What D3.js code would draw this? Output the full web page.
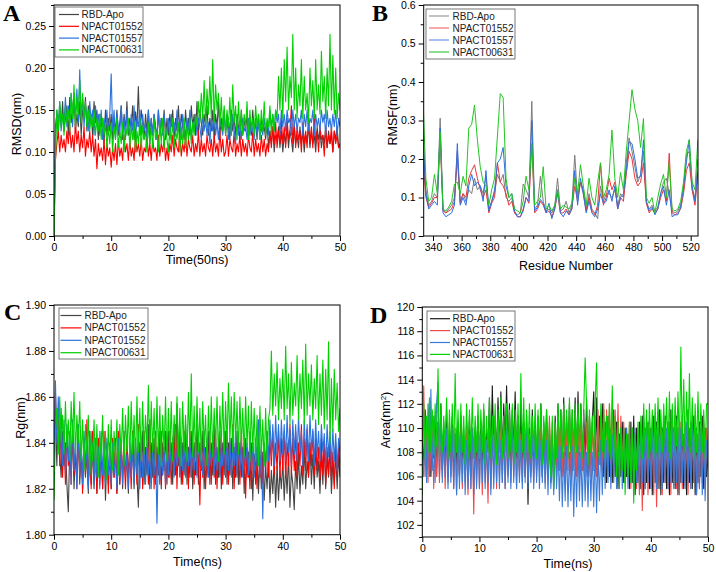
<!DOCTYPE html>
<html><head><meta charset="utf-8">
<script src="https://cdn.jsdelivr.net/npm/d3@7"></script>
<style>
body{margin:0;background:#fff}
svg{display:block}
</style>
</head><body>
<svg id="c" width="716" height="572" font-family="'Liberation Sans',Arial,sans-serif"></svg>
<script>
// ---------- data ----------
const seriesNames = ["RBD-Apo","NPACT01552","NPACT01557","NPACT00631"];
const seriesNamesC = ["RBD-Apo","NPACT01552","NPACT01552","NPACT00631"];
const timeRange = [0, 50];                   // ns, samples evenly spaced over this range
const residues = d3.range(333, 526, 2);      // 97 residues

// Panel A: RMSD (nm), 0.25 ns sampling
const rmsdApo = [
0,0.13,0.145,0.12,0.155,0.13,0.16,0.125,0.14,0.155,0.12,0.165,0.135,0.15,0.17,0.125,0.145,0.13,0.16,0.12,0.15,0.14,0.165,0.125,0.155,0.13,0.145,0.12,0.16,0.135,0.15,0.115,0.145,0.13,0.14,0.11,0.15,0.12,0.14,0.125,
0.145,0.115,0.14,0.125,0.15,0.12,0.135,0.155,0.115,0.145,0.125,0.16,0.12,0.14,0.13,0.155,0.115,0.148,0.13,0.178,0.12,0.15,0.135,0.115,0.145,0.125,0.15,0.11,0.14,0.12,0.145,0.13,0.115,0.15,0.12,0.14,0.125,0.15,0.115,0.14,
0.12,0.145,0.13,0.15,0.115,0.14,0.125,0.155,0.12,0.145,0.13,0.115,0.15,0.125,0.14,0.12,0.155,0.13,0.145,0.12,0.16,0.125,0.15,0.135,0.12,0.145,0.13,0.155,0.12,0.14,0.125,0.15,0.115,0.145,0.13,0.16,0.12,0.14,0.125,0.15,
0.12,0.145,0.13,0.115,0.15,0.125,0.14,0.12,0.145,0.13,0.115,0.15,0.12,0.14,0.125,0.145,0.115,0.14,0.12,0.15,0.125,0.135,0.115,0.145,0.12,0.14,0.125,0.13,0.115,0.135,0.105,0.125,0.11,0.13,0.10,0.12,0.115,0.13,0.105,0.125,
0.10,0.12,0.11,0.13,0.105,0.125,0.115,0.10,0.13,0.11,0.12,0.105,0.13,0.11,0.125,0.10,0.12,0.115,0.13,0.105,0.125,0.11,0.12,0.10,0.13,0.115,0.125,0.105,0.12,0.11,0.13,0.105,0.125,0.11,0.12,0.10,0.125,0.115,0.13,0.105,
0.11];
const rmsd01552 = [
0,0.09,0.11,0.125,0.10,0.12,0.105,0.115,0.10,0.125,0.11,0.13,0.105,0.12,0.10,0.135,0.11,0.125,0.10,0.12,0.105,0.13,0.095,0.115,0.105,0.125,0.10,0.12,0.095,0.115,0.08,0.11,0.095,0.105,0.09,0.115,0.085,0.11,0.095,0.105,
0.082,0.105,0.09,0.11,0.085,0.115,0.095,0.105,0.09,0.12,0.10,0.11,0.09,0.115,0.095,0.105,0.09,0.12,0.10,0.11,0.095,0.115,0.09,0.105,0.10,0.12,0.095,0.11,0.09,0.115,0.10,0.105,0.09,0.12,0.095,0.11,0.10,0.115,0.09,0.105,
0.09,0.11,0.10,0.12,0.095,0.115,0.105,0.10,0.125,0.095,0.11,0.10,0.12,0.095,0.115,0.105,0.10,0.12,0.095,0.11,0.10,0.125,0.095,0.115,0.10,0.11,0.095,0.12,0.105,0.10,0.115,0.095,0.12,0.10,0.11,0.095,0.125,0.10,0.115,0.095,
0.10,0.12,0.095,0.115,0.105,0.10,0.125,0.095,0.11,0.10,0.12,0.095,0.115,0.10,0.11,0.095,0.12,0.105,0.10,0.125,0.095,0.115,0.10,0.11,0.095,0.12,0.10,0.115,0.095,0.11,0.10,0.125,0.105,0.13,0.11,0.135,0.105,0.125,0.11,0.14,
0.11,0.13,0.105,0.14,0.115,0.125,0.155,0.11,0.135,0.105,0.13,0.115,0.125,0.10,0.135,0.11,0.125,0.105,0.14,0.11,0.13,0.105,0.145,0.11,0.125,0.10,0.13,0.115,0.12,0.095,0.13,0.105,0.12,0.11,0.13,0.10,0.125,0.11,0.12,0.105,
0.11];
const rmsd01557 = [
0,0.12,0.15,0.13,0.16,0.125,0.145,0.135,0.165,0.13,0.155,0.14,0.17,0.13,0.16,0.145,0.175,0.135,0.198,0.14,0.165,0.13,0.155,0.145,0.125,0.16,0.135,0.15,0.12,0.155,0.13,0.145,0.12,0.15,0.115,0.14,0.125,0.15,0.12,0.145,
0.193,0.125,0.15,0.115,0.145,0.13,0.12,0.155,0.125,0.14,0.115,0.15,0.13,0.12,0.145,0.125,0.155,0.115,0.14,0.13,0.15,0.12,0.145,0.125,0.135,0.115,0.15,0.125,0.14,0.12,0.145,0.13,0.115,0.15,0.125,0.14,0.12,0.145,0.13,0.12,
0.14,0.115,0.145,0.125,0.135,0.12,0.15,0.125,0.14,0.115,0.145,0.13,0.12,0.14,0.125,0.15,0.115,0.135,0.125,0.145,0.12,0.14,0.13,0.115,0.145,0.125,0.14,0.12,0.135,0.11,0.14,0.125,0.145,0.12,0.135,0.115,0.14,0.13,0.12,0.145,
0.125,0.14,0.115,0.135,0.12,0.145,0.125,0.11,0.14,0.12,0.135,0.115,0.14,0.125,0.13,0.115,0.14,0.12,0.135,0.125,0.115,0.14,0.12,0.135,0.115,0.13,0.12,0.14,0.125,0.135,0.12,0.15,0.13,0.145,0.125,0.15,0.135,0.145,0.12,0.15,
0.13,0.145,0.125,0.15,0.135,0.14,0.12,0.15,0.13,0.145,0.125,0.14,0.135,0.15,0.12,0.145,0.13,0.15,0.125,0.14,0.135,0.15,0.12,0.145,0.13,0.14,0.125,0.15,0.135,0.145,0.12,0.15,0.13,0.14,0.125,0.145,0.13,0.15,0.12,0.14,
0.13];
const rmsd00631 = [
0,0.09,0.15,0.125,0.16,0.13,0.145,0.12,0.155,0.135,0.15,0.125,0.17,0.14,0.18,0.13,0.165,0.145,0.185,0.135,0.17,0.14,0.16,0.13,0.15,0.125,0.145,0.13,0.15,0.12,0.14,0.125,0.145,0.115,0.14,0.12,0.135,0.105,0.13,0.11,
0.135,0.10,0.13,0.115,0.14,0.105,0.125,0.11,0.135,0.10,0.13,0.12,0.14,0.105,0.13,0.115,0.135,0.10,0.125,0.11,0.14,0.105,0.13,0.115,0.125,0.10,0.135,0.11,0.13,0.105,0.14,0.115,0.125,0.10,0.135,0.11,0.14,0.105,0.13,0.115,
0.10,0.13,0.11,0.14,0.105,0.125,0.115,0.135,0.10,0.13,0.11,0.14,0.105,0.13,0.115,0.14,0.11,0.135,0.12,0.145,0.13,0.16,0.135,0.17,0.14,0.185,0.13,0.175,0.145,0.19,0.14,0.21,0.135,0.18,0.15,0.17,0.13,0.165,0.125,0.155,
0.12,0.15,0.13,0.165,0.12,0.18,0.135,0.155,0.115,0.16,0.125,0.15,0.12,0.145,0.13,0.16,0.115,0.15,0.125,0.14,0.12,0.155,0.13,0.145,0.115,0.15,0.125,0.16,0.12,0.14,0.13,0.155,0.12,0.145,0.125,0.15,0.14,0.19,0.15,0.20,
0.14,0.21,0.16,0.225,0.15,0.19,0.165,0.24,0.15,0.20,0.14,0.18,0.155,0.21,0.14,0.19,0.15,0.17,0.135,0.20,0.155,0.185,0.14,0.21,0.15,0.18,0.145,0.22,0.16,0.19,0.14,0.20,0.155,0.24,0.15,0.215,0.145,0.20,0.14,0.17,
0.15];

// Panel B: RMSF (nm) per residue
const rmsfApo = [0.26,0.12,0.08,0.09,0.11,0.10,0.306,0.07,0.06,0.07,0.08,0.10,0.20,0.09,0.11,0.09,0.12,0.11,0.15,0.12,0.13,0.11,0.155,0.07,0.09,0.11,0.16,0.14,0.16,0.10,0.09,0.10,0.06,0.055,0.06,0.135,0.12,0.10,0.35,0.07,0.08,0.155,0.09,0.065,0.07,0.06,0.075,0.15,0.065,0.07,0.09,0.06,0.08,0.21,0.10,0.14,0.12,0.07,0.11,0.07,0.06,0.045,0.13,0.09,0.11,0.11,0.10,0.12,0.08,0.11,0.10,0.19,0.255,0.22,0.18,0.14,0.16,0.22,0.09,0.07,0.08,0.065,0.075,0.11,0.14,0.15,0.11,0.065,0.06,0.065,0.08,0.12,0.21,0.22,0.12,0.10,0.20];
const rmsf01552 = [0.20,0.10,0.075,0.085,0.10,0.10,0.25,0.065,0.06,0.065,0.07,0.09,0.22,0.085,0.11,0.10,0.15,0.17,0.185,0.15,0.12,0.10,0.12,0.06,0.085,0.10,0.19,0.14,0.13,0.11,0.08,0.09,0.06,0.05,0.05,0.07,0.10,0.085,0.24,0.06,0.07,0.09,0.08,0.06,0.065,0.05,0.07,0.11,0.06,0.06,0.07,0.055,0.07,0.13,0.09,0.14,0.11,0.065,0.10,0.065,0.055,0.08,0.19,0.08,0.10,0.15,0.12,0.14,0.07,0.10,0.09,0.16,0.22,0.20,0.15,0.13,0.14,0.19,0.085,0.06,0.07,0.06,0.07,0.10,0.12,0.09,0.215,0.06,0.055,0.06,0.07,0.11,0.17,0.19,0.12,0.08,0.16];
const rmsf01557 = [0.25,0.11,0.07,0.08,0.09,0.08,0.28,0.06,0.05,0.055,0.06,0.08,0.24,0.08,0.10,0.08,0.13,0.16,0.13,0.14,0.13,0.09,0.17,0.065,0.09,0.12,0.19,0.20,0.23,0.13,0.10,0.11,0.065,0.05,0.05,0.065,0.10,0.09,0.30,0.065,0.075,0.095,0.085,0.06,0.085,0.045,0.07,0.12,0.06,0.05,0.065,0.055,0.07,0.17,0.08,0.15,0.11,0.06,0.09,0.06,0.05,0.07,0.11,0.085,0.09,0.12,0.09,0.13,0.07,0.10,0.11,0.17,0.245,0.24,0.20,0.15,0.155,0.25,0.09,0.065,0.075,0.055,0.07,0.11,0.13,0.08,0.12,0.05,0.055,0.055,0.075,0.13,0.19,0.25,0.13,0.09,0.17];
const rmsf00631 = [0.36,0.15,0.09,0.10,0.16,0.11,0.27,0.07,0.065,0.075,0.09,0.135,0.14,0.11,0.155,0.13,0.28,0.29,0.34,0.25,0.18,0.14,0.13,0.08,0.12,0.15,0.26,0.37,0.36,0.15,0.10,0.11,0.07,0.065,0.06,0.09,0.155,0.12,0.24,0.08,0.09,0.10,0.18,0.07,0.08,0.065,0.08,0.12,0.07,0.08,0.075,0.07,0.085,0.15,0.11,0.185,0.13,0.08,0.15,0.10,0.08,0.14,0.19,0.10,0.12,0.16,0.275,0.15,0.10,0.165,0.12,0.22,0.30,0.38,0.33,0.30,0.23,0.305,0.10,0.085,0.10,0.06,0.10,0.135,0.16,0.10,0.19,0.07,0.065,0.07,0.09,0.14,0.22,0.25,0.14,0.12,0.25];

// Panel C: Rg (nm), 0.25 ns sampling
const rgApo = [
1.84,1.85,1.83,1.855,1.835,1.825,1.845,1.83,1.84,1.822,1.81,1.838,1.826,1.845,1.82,1.835,1.825,1.848,1.822,1.838,1.82,1.842,1.825,1.835,1.818,1.845,1.822,1.84,1.82,1.836,1.818,1.842,1.825,1.838,1.82,1.84,1.815,1.835,1.822,1.84,
1.82,1.838,1.825,1.842,1.818,1.835,1.822,1.84,1.82,1.845,1.825,1.835,1.818,1.84,1.825,1.845,1.82,1.838,1.826,1.812,1.84,1.825,1.845,1.822,1.838,1.826,1.848,1.82,1.84,1.825,1.842,1.822,1.838,1.826,1.845,1.82,1.84,1.828,1.845,1.822,
1.845,1.825,1.84,1.822,1.848,1.826,1.857,1.83,1.845,1.822,1.84,1.826,1.848,1.822,1.838,1.825,1.845,1.82,1.84,1.826,1.848,1.822,1.84,1.828,1.845,1.82,1.838,1.825,1.845,1.822,1.84,1.826,1.848,1.822,1.838,1.825,1.845,1.82,1.84,1.826,
1.845,1.822,1.84,1.826,1.842,1.82,1.838,1.825,1.845,1.822,1.84,1.825,1.838,1.818,1.842,1.825,1.836,1.82,1.84,1.815,1.835,1.822,1.838,1.818,1.834,1.82,1.836,1.815,1.83,1.82,1.835,1.814,1.828,1.818,1.832,1.812,1.83,1.815,1.828,1.82,
1.832,1.815,1.83,1.818,1.835,1.812,1.828,1.822,1.811,1.832,1.82,1.835,1.818,1.83,1.822,1.838,1.82,1.832,1.825,1.84,1.822,1.835,1.82,1.838,1.825,1.832,1.818,1.836,1.822,1.84,1.82,1.834,1.825,1.838,1.818,1.832,1.822,1.836,1.82,1.834,
1.825];
const rg01552 = [
1.835,1.862,1.84,1.855,1.83,1.848,1.825,1.842,1.822,1.845,1.83,1.84,1.822,1.848,1.826,1.838,1.82,1.845,1.825,1.84,1.818,1.842,1.826,1.85,1.822,1.838,1.82,1.845,1.825,1.84,1.818,1.842,1.822,1.838,1.82,1.845,1.825,1.84,1.818,1.836,
1.82,1.842,1.825,1.838,1.818,1.845,1.822,1.84,1.826,1.835,1.82,1.842,1.825,1.838,1.82,1.845,1.826,1.84,1.822,1.848,1.825,1.84,1.82,1.845,1.828,1.838,1.822,1.85,1.826,1.842,1.82,1.845,1.825,1.84,1.822,1.845,1.826,1.838,1.82,1.842,
1.825,1.845,1.822,1.84,1.826,1.848,1.82,1.842,1.825,1.838,1.822,1.845,1.826,1.84,1.82,1.845,1.825,1.838,1.822,1.842,1.826,1.835,1.813,1.84,1.825,1.845,1.82,1.838,1.826,1.842,1.822,1.84,1.825,1.845,1.82,1.838,1.826,1.842,1.822,1.84,
1.825,1.845,1.822,1.84,1.826,1.848,1.82,1.842,1.825,1.838,1.822,1.845,1.826,1.84,1.816,1.838,1.825,1.842,1.82,1.84,1.826,1.835,1.82,1.842,1.825,1.838,1.822,1.84,1.828,1.845,1.825,1.842,1.83,1.845,1.826,1.84,1.828,1.845,1.825,1.842,
1.828,1.845,1.825,1.84,1.83,1.848,1.826,1.842,1.828,1.845,1.825,1.84,1.83,1.848,1.826,1.842,1.828,1.846,1.825,1.84,1.83,1.845,1.826,1.842,1.828,1.838,1.824,1.842,1.826,1.84,1.822,1.838,1.826,1.842,1.824,1.836,1.82,1.84,1.826,1.838,
1.83];
const rg01557 = [
1.83,1.867,1.84,1.86,1.835,1.855,1.83,1.85,1.826,1.848,1.832,1.845,1.822,1.85,1.828,1.842,1.82,1.848,1.826,1.84,1.822,1.845,1.828,1.838,1.82,1.845,1.826,1.84,1.822,1.842,1.825,1.838,1.82,1.845,1.826,1.84,1.822,1.842,1.826,1.838,
1.822,1.84,1.826,1.835,1.82,1.842,1.825,1.838,1.822,1.84,1.826,1.835,1.82,1.84,1.825,1.838,1.822,1.842,1.826,1.836,1.82,1.84,1.825,1.838,1.822,1.84,1.826,1.836,1.82,1.838,1.826,1.84,1.805,1.836,1.824,1.84,1.826,1.838,1.822,1.84,
1.826,1.84,1.828,1.842,1.825,1.838,1.83,1.84,1.826,1.842,1.828,1.838,1.825,1.84,1.83,1.842,1.826,1.838,1.828,1.84,1.825,1.842,1.83,1.838,1.826,1.84,1.828,1.842,1.825,1.838,1.83,1.84,1.826,1.842,1.828,1.838,1.825,1.84,1.83,1.842,
1.826,1.84,1.828,1.842,1.825,1.838,1.83,1.845,1.826,1.84,1.828,1.842,1.825,1.838,1.83,1.84,1.826,1.845,1.828,1.84,1.825,1.842,1.83,1.85,1.826,1.84,1.807,1.838,1.83,1.845,1.832,1.85,1.834,1.848,1.83,1.852,1.835,1.848,1.832,1.85,
1.835,1.848,1.832,1.852,1.836,1.846,1.83,1.85,1.835,1.848,1.832,1.852,1.836,1.845,1.83,1.85,1.834,1.848,1.832,1.852,1.836,1.846,1.83,1.85,1.834,1.845,1.832,1.848,1.836,1.844,1.83,1.848,1.834,1.845,1.83,1.846,1.832,1.844,1.828,1.842,
1.835];
const rg00631 = [
1.815,1.845,1.855,1.835,1.86,1.84,1.852,1.835,1.858,1.838,1.85,1.832,1.858,1.84,1.862,1.835,1.852,1.84,1.858,1.832,1.85,1.828,1.848,1.835,1.852,1.826,1.845,1.832,1.85,1.828,1.848,1.825,1.845,1.832,1.852,1.828,1.845,1.824,1.848,1.83,
1.85,1.828,1.845,1.832,1.85,1.826,1.848,1.835,1.855,1.83,1.852,1.836,1.856,1.832,1.858,1.835,1.852,1.83,1.86,1.836,1.855,1.832,1.858,1.835,1.852,1.838,1.865,1.832,1.858,1.836,1.855,1.83,1.86,1.835,1.856,1.83,1.852,1.836,1.86,1.832,
1.855,1.835,1.858,1.832,1.852,1.838,1.86,1.834,1.855,1.83,1.858,1.836,1.852,1.832,1.862,1.838,1.87,1.834,1.856,1.832,1.86,1.836,1.855,1.832,1.858,1.838,1.852,1.83,1.856,1.836,1.86,1.834,1.855,1.838,1.86,1.832,1.856,1.838,1.862,1.835,
1.858,1.838,1.866,1.84,1.86,1.836,1.862,1.84,1.858,1.835,1.86,1.838,1.855,1.834,1.86,1.838,1.856,1.832,1.858,1.836,1.855,1.832,1.852,1.83,1.856,1.834,1.85,1.83,1.855,1.832,1.85,1.855,1.88,1.852,1.87,1.856,1.875,1.85,1.868,1.855,
1.872,1.85,1.882,1.855,1.87,1.848,1.875,1.852,1.866,1.856,1.878,1.85,1.87,1.855,1.876,1.848,1.883,1.852,1.87,1.856,1.874,1.85,1.868,1.855,1.878,1.848,1.87,1.852,1.876,1.846,1.872,1.85,1.884,1.84,1.868,1.845,1.872,1.85,1.866,1.845,
1.855];

// Panel D: SASA area (nm^2), 0.25 ns sampling
const areaApo = [
109,107,111.5,106.5,110,112,106,109.5,107.5,111,106,110.5,108,112,106.5,109,107,111.5,106,110,107.5,111,106.5,109.5,107,110.5,106,111,107.5,109,106.5,110.5,107,111,106,109.5,107.5,110,106.5,111,
107,110.5,106.5,111.5,107.5,110,108,112.5,107,113.5,108.5,111,107.5,112.5,108,113,107.5,112,108.5,113.5,108,112,107,111.5,108,113,107.5,111,106.5,112,107,110.5,106,111,103.7,110,106.5,111.5,107,110.5,
106.5,111,107,112,106,110.5,107.5,111.5,106,110,105.5,109.5,105,111,106.5,112,107,111.5,106.5,112.5,107,111,107.5,112,106.5,111.5,107,112.5,106.5,113,107,112,106.5,111.5,107,112.5,106,111,107,110.5,
113,107,112.5,106.5,111,107,112,106,110.5,105.5,111,106,110,105.5,111.5,106,110.5,105,109.5,106,110.5,105.5,110,106,109.5,105,110.5,105.5,111,104.5,110,105.5,110.5,105,111,104.5,110,105.5,110.5,105,
110,104.5,111,105.5,110.5,105,111.5,104.5,110,105.5,111,105,110.5,104.5,111.5,105.5,110,105,111,104.5,110.5,105.5,111,105,110,104.5,111.5,105.5,110.5,105,111,104.5,110,105.5,110.5,106,111,105,110,106,
108];
const area01552 = [
108,113.5,106,110.5,105.5,111,106.5,110,105,109.5,106,110.5,105.5,109,106,110,105,109.5,105.5,110.5,106,109,105,110,104.5,109.5,106,110,105,109.5,105.5,110,104.5,109,105,110,102.9,109.5,105.5,110,
105,109.5,104.5,110,105.5,109,103.8,110,105,109.5,106,110.5,105,109.5,106,110,105.5,110.5,105,109.5,106,110,105.5,109.5,106,110.5,105,110,106,109.5,105.5,110.5,106,110,105.5,109.5,106,110.5,105.5,110,
106,110.5,106.5,111,106,110,105.5,110.5,106,111,106.5,110.5,105.5,110,106,111,106.5,110.5,106,111,105.5,110,106.5,111,106,110.5,106.5,111,106,110.5,105.5,111,106.5,110,106,110.5,106.5,111,106,110.5,
106.5,111,106,111.5,107,111,106.5,112,107,111.5,106.5,112,107,112.3,106.5,111.5,107,112,106,111,106.5,110.5,105.5,110,106,110.5,105,110,105.5,109.5,105,110,104.5,109.5,103.2,110,105,109.5,104.5,110,
105,109.5,104.5,110,103.5,109.5,105,110,104.5,110.5,105.5,109.5,105,110,104.5,110.5,105.5,109.5,105,110,104.5,110.5,105,109.5,105.5,110,104.5,109.5,105,110.5,105.5,110,104.5,109.5,105,110,105.5,110.5,105,110,
108];
const area01557 = [
108,106,111,105.5,112,106,113.2,106.5,111,105.5,112,113.8,106,111,105.5,110.5,106,110,105,109.5,105.5,110,105,109.5,104.5,110,105,109.5,105.5,110,104.5,109,105,109.5,105,110,104.5,109,105,109.5,
105,109.5,105.5,110,105,109,105.5,109.5,104.5,110,105,109.5,105.5,110,105,109,105.5,109.5,105,110,105.5,109.5,105,110.5,105.5,109.5,105,110,105.5,109,105,109.5,105.5,110,105,109,105.5,109.5,105,110,
105.5,109.5,105,109,105.5,109.5,105,109,104.5,109.5,105,108.5,104.5,109,105,108.5,104,108.5,103.5,108,104,108.5,103.5,108,104,108.5,102.7,108,103.5,108.5,104,108,103.5,108.5,104,108,103.5,108.5,104,108,
103.5,108.5,103,108,104,109,104.5,109.5,105,109,105.5,110,105,109.5,105.5,110,105,109.5,105.5,110,105,109.5,105.5,110,105,109.5,105.5,110,105,110,105.5,109.5,105,110,105.5,110.5,105,110,105.5,109.5,
105,110,105.5,110.5,105,110,105.5,109.5,105,110.5,105.5,110,105,110.5,105.5,110,105,110.5,105.5,110,105,110,105.5,109.5,105,110.5,105.5,110,105,110.5,105.5,110,104.5,109.5,105,110,104.5,109.5,104,109,
107];
const area00631 = [
104.5,112,107.5,111,108,112.5,108,111.5,107.8,112,108.5,114.9,107.5,112,108,111,108.5,112.5,107.5,111.5,108,112,107.5,114.5,108,111.5,107.5,112,108,111,107,112,107.5,111.5,108,112.5,107.5,111,108,112,
107.5,111.5,108,112,107,111,108,112.5,107.5,111,108,112,107,111.5,108,112.5,107.5,111,108,112,107.5,111.5,108,112,107,111.5,108,112,107.5,114.5,108,112.5,107.5,111.5,108,112,107.5,111,108,112,
107.5,111.5,108,112,107,111,108,111.5,107,110.5,106,111,105,110.5,107.5,112,108,111.5,107.5,112,108,111.5,107.5,112.5,108,111.5,107.5,112,108,112,108,112,107.5,111.5,115.8,112,107,111.5,108,111,
107.5,112,115.4,108,107.5,112,108,111.5,107.5,111,108,112,107.5,113.5,107,111,106,110.5,105,110,106.5,110,104.5,109.5,106,110.5,105.5,110,103.8,109.5,106.5,110.5,107,111,107.5,112,108,111.5,107.5,112,
108,111.5,107.5,112,108,112.5,107.5,111.5,108,112,108.5,112.5,108,113,107.5,112,108,112.5,108.5,113,108,116.7,108.5,114,108,113,108.5,114.5,108,112.5,107.5,112,108,113,107.5,112,108,111.5,107.5,112,
112];

// tick values
const ticksTime = [0,10,20,30,40,50];
const ticksRmsd = [0,0.05,0.10,0.15,0.20,0.25];
const ticksRes = [340,360,380,400,420,440,460,480,500,520];
const ticksRmsf = [0,0.1,0.2,0.3,0.4,0.5,0.6];
const ticksRg = [1.80,1.82,1.84,1.86,1.88,1.90];
const ticksArea = [102,104,106,108,110,112,114,116,118,120];

// ---------- drawing ----------
const SANS = '"Liberation Sans",Arial,sans-serif';
const SERIF = '"Liberation Serif","Times New Roman",serif';
const svg = d3.select("#c");
let clipId = 0;

function panel(cfg){
  const g = svg.append("g");
  const x = d3.scaleLinear().domain(cfg.xd).range([cfg.l, cfg.r]);
  const y = d3.scaleLinear().domain(cfg.yd).range([cfg.b, cfg.t]);
  const id = "clip" + (clipId++);
  svg.append("clipPath").attr("id", id).append("rect")
    .attr("x", cfg.l).attr("y", cfg.t).attr("width", cfg.r - cfg.l).attr("height", cfg.b - cfg.t);
  const lg = g.append("g").attr("clip-path", `url(#${id})`);
  cfg.vals.forEach((vals, i) => {
    const n = vals.length;
    const xv = cfg.xs ? (j => cfg.xs[j])
      : (j => cfg.xr[0] + j * (cfg.xr[1] - cfg.xr[0]) / (n - 1));
    lg.append("path").datum(vals)
      .attr("fill", "none").attr("stroke", cfg.colors[i])
      .attr("stroke-width", cfg.sw).attr("stroke-linejoin", "round")
      .attr("d", d3.line().x((d, j) => x(xv(j))).y(d => y(d)));
  });
  // frame
  g.append("rect").attr("x", cfg.l).attr("y", cfg.t)
    .attr("width", cfg.r - cfg.l).attr("height", cfg.b - cfg.t)
    .attr("fill", "none").attr("stroke", "#000").attr("stroke-width", 1);
  // axes
  const ax = g.append("g").attr("transform", `translate(0,${cfg.b})`)
    .call(d3.axisBottom(x).tickValues(cfg.xt).tickSize(5).tickSizeOuter(0).tickPadding(3).tickFormat(cfg.xf));
  ax.select(".domain").remove();
  const axm = g.append("g").attr("transform", `translate(0,${cfg.b})`)
    .call(d3.axisBottom(x).tickValues(cfg.xm).tickSize(3).tickSizeOuter(0).tickFormat(""));
  axm.select(".domain").remove();
  const ay = g.append("g").attr("transform", `translate(${cfg.l},0)`)
    .call(d3.axisLeft(y).tickValues(cfg.yt).tickSize(5).tickSizeOuter(0).tickPadding(3).tickFormat(cfg.yf));
  ay.select(".domain").remove();
  const aym = g.append("g").attr("transform", `translate(${cfg.l},0)`)
    .call(d3.axisLeft(y).tickValues(cfg.ym).tickSize(3).tickSizeOuter(0).tickFormat(""));
  aym.select(".domain").remove();
  g.selectAll("g.tick text").style("font-size", "10.5px").style("font-family", SANS).attr("fill", "#000");
  g.selectAll("g.tick line").attr("stroke", "#000");
  // titles
  g.append("text").attr("x", cfg.xlx).attr("y", cfg.xly).attr("text-anchor", "middle")
    .style("font-family", SANS).style("font-size", "12.5px").text(cfg.xlabel);
  const yt = g.append("text").attr("transform", `translate(${cfg.ylx},${cfg.yly}) rotate(-90)`)
    .attr("text-anchor", "middle").attr("dy", "0.35em")
    .style("font-family", SANS).style("font-size", "12.5px");
  if (cfg.ysup) {
    yt.append("tspan").text(cfg.ylabel);
    yt.append("tspan").attr("baseline-shift", "super").style("font-size", "8px").text(cfg.ysup);
    yt.append("tspan").text(")");
  } else yt.text(cfg.ylabel);
  // letter
  g.append("text").attr("x", cfg.lx).attr("y", cfg.ly)
    .style("font-family", SERIF).style("font-weight", "bold")
    .style("font-size", "24px").text(cfg.letter);
  // legend
  const L = cfg.leg;
  g.append("rect").attr("x", L.x).attr("y", L.y).attr("width", L.w).attr("height", L.h)
    .attr("fill", "#fff").attr("stroke", "#555").attr("stroke-width", 0.8);
  cfg.names.forEach((nm, i) => {
    const yy = L.r0 + i * L.dr;
    g.append("line").attr("x1", L.lx0).attr("x2", L.lx1).attr("y1", yy).attr("y2", yy)
      .attr("stroke", cfg.legColors ? cfg.legColors[i] : cfg.colors[i]).attr("stroke-width", 1.2);
    g.append("text").attr("x", L.tx).attr("y", yy).attr("dy", "0.35em")
      .style("font-family", SANS).style("font-size", "10px").attr("fill", "#222").text(nm);
  });
}

const f2 = d3.format(".2f"), f1 = d3.format(".1f"), f0 = d3.format("d");
const colStd = ["#444444", "#ff0000", "#2a72de", "#00d000"];

panel({
  l: 54, r: 340, t: 5, b: 236, xd: [0, 50], yd: [0, 0.275],
  xr: timeRange, vals: [rmsdApo, rmsd01552, rmsd01557, rmsd00631],
  colors: colStd, sw: 1.1,
  xt: ticksTime, xm: [5,15,25,35,45], xf: f0,
  yt: ticksRmsd, ym: [0.025,0.075,0.125,0.175,0.225,0.275], yf: f2,
  xlabel: "Time(50ns)", xlx: 197, xly: 264,
  ylabel: "RMSD(nm)", ylx: 17, yly: 124,
  letter: "A", lx: 3, ly: 21,
  names: seriesNames,
  leg: {x: 55, y: 7, w: 88, h: 50, r0: 14.5, dr: 11.8, lx0: 59, lx1: 79, tx: 81.5}
});

panel({
  l: 423.7, r: 698, t: 5, b: 236, xd: [333.5, 525.1], yd: [0, 0.6],
  xs: residues, vals: [rmsfApo, rmsf01552, rmsf01557, rmsf00631],
  colors: ["#7c7c7c", "#e8383a", "#2f6fe0", "#22c522"],
  legColors: ["#999999", "#f07070", "#6a98e8", "#40c840"], sw: 1,
  xt: ticksRes, xm: [350,370,390,410,430,450,470,490,510], xf: f0,
  yt: ticksRmsf, ym: [0.05,0.15,0.25,0.35,0.45,0.55], yf: f1,
  xlabel: "Residue Number", xlx: 566, xly: 270,
  ylabel: "RMSF(nm)", ylx: 393, yly: 115,
  letter: "B", lx: 372, ly: 21,
  names: seriesNames,
  leg: {x: 426, y: 9, w: 89, h: 50, r0: 16, dr: 12, lx0: 429, lx1: 449, tx: 452.5}
});

panel({
  l: 54, r: 340, t: 305, b: 534.7, xd: [0, 50], yd: [1.80, 1.90],
  xr: timeRange, vals: [rgApo, rg01552, rg01557, rg00631],
  colors: colStd, sw: 1.1,
  xt: ticksTime, xm: [5,15,25,35,45], xf: f0,
  yt: ticksRg, ym: [1.81,1.83,1.85,1.87,1.89], yf: f2,
  xlabel: "Time(ns)", xlx: 197.5, xly: 566,
  ylabel: "Rg(nm)", ylx: 21, yly: 418,
  letter: "C", lx: 4, ly: 319.5,
  names: seriesNamesC,
  leg: {x: 59, y: 308, w: 89, h: 51, r0: 315.5, dr: 12.4, lx0: 60.5, lx1: 81.5, tx: 84.5}
});

panel({
  l: 422.3, r: 708, t: 307, b: 537, xd: [0, 50], yd: [101, 120],
  xr: timeRange, vals: [areaApo, area01552, area01557, area00631],
  colors: ["#1a1a1a", "#f04848", "#3a7ad6", "#00d400"], sw: 1.1,
  xt: ticksTime, xm: [5,15,25,35,45], xf: f0,
  yt: ticksArea, ym: [101,103,105,107,109,111,113,115,117,119], yf: f0,
  xlabel: "Time(ns)", xlx: 568, xly: 568,
  ylabel: "Area(nm", ysup: "2", ylx: 386, yly: 420,
  letter: "D", lx: 370, ly: 322.5,
  names: seriesNames,
  leg: {x: 427, y: 311, w: 88, h: 50, r0: 318.7, dr: 11.9, lx0: 430, lx1: 450, tx: 452.5}
});
</script>
</body></html>
